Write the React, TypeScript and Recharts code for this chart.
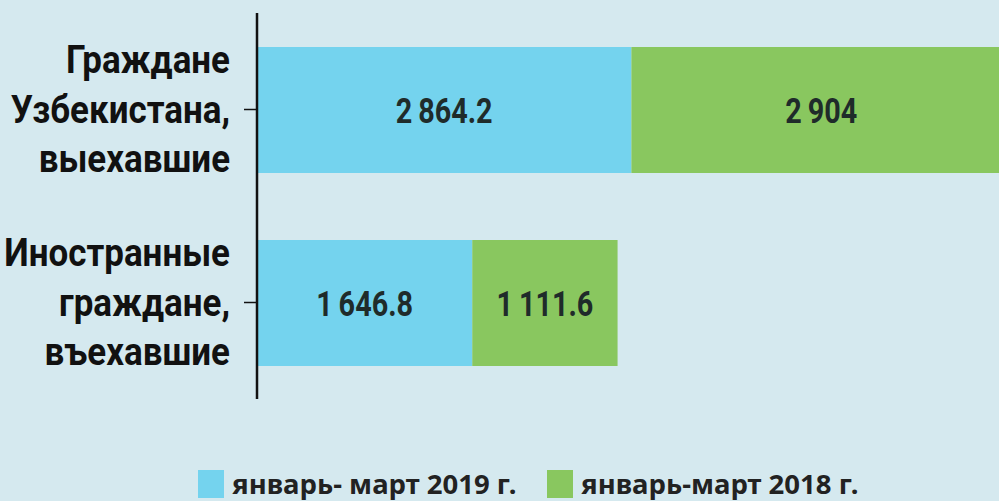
import React from "react";
import { BarChart, Bar, XAxis, YAxis, Legend, LabelList } from "recharts";

const categories = ["Граждане Узбекистана, выехавшие", "Иностранные граждане, въехавшие"];
const categoryLines = [
  ["Граждане", "Узбекистана,", "выехавшие"],
  ["Иностранные", "граждане,", "въехавшие"],
];
const values2019 = [2864.2, 1646.8];
const values2018 = [2904, 1111.6];
const seriesNames = ["январь- март 2019 г.", "январь-март 2018 г."];
const seriesColors = ["#74d3ee", "#89c75f"];

const data = categories.map((name, i) => ({
  name,
  v2019: values2019[i],
  v2018: values2018[i],
}));

const FONT = "Roboto, 'Noto Sans', sans-serif";
const LABEL_FONT = "'Noto Sans', Roboto, sans-serif";
const BG = "#d5e9ef";

const fmt = (v: any) => {
  const n = Number(v);
  const [ip, dp] = String(n).split(".");
  const withSp = ip.replace(/\B(?=(\d{3})+(?!\d))/g, "\u2009");
  return dp ? `${withSp}.${dp}` : withSp;
};

const lineOffsets = [-37, 13, 63];

const CatTick = (props: any) => {
  const { x, y, payload } = props;
  const idx = categories.indexOf(payload.value);
  const lines = categoryLines[idx] || [payload.value];
  const xEnd = x - 12;
  return (
    <g transform={`translate(${xEnd},${y}) scale(0.92,1)`}>
      <text
        x={0}
        y={0}
        textAnchor="end"
        fontFamily={FONT}
        fontWeight={700}
        fontSize={38}
        fill="#111"
      >
        {lines.map((l: string, i: number) => (
          <tspan key={i} x={0} y={lineOffsets[i] ?? 0}>
            {l}
          </tspan>
        ))}
      </text>
    </g>
  );
};

const ValueLabel = (props: any) => {
  const { x, y, width, height, value } = props;
  const cx = Number(x) + Number(width) / 2;
  const cy = Number(y) + Number(height) / 2;
  return (
    <g transform={`translate(${cx},${cy}) scale(0.8,1)`}>
      <text
        x={0}
        y={13}
        textAnchor="middle"
        fontFamily={FONT}
        fontWeight={700}
        fontSize={36}
        fill="#1f2b2a"
      >
        {fmt(value)}
      </text>
    </g>
  );
};

const LegendContent = () => (
  <div
    style={{
      height: 102,
      width: 1030,
      display: "flex",
      alignItems: "flex-end",
      fontFamily: LABEL_FONT,
      fontWeight: 700,
      fontSize: 27.5,
      color: "#222",
    }}
  >
    <div style={{ display: "flex", alignItems: "center", marginLeft: 198, height: 28, marginBottom: 3 }}>
      {seriesNames.map((n, i) => (
        <div key={i} style={{ display: "flex", alignItems: "center", width: i === 0 ? 349 : 400 }}>
          <div style={{ width: 26, height: 28, background: seriesColors[i], marginRight: 8 }} />
          <span style={{ lineHeight: "28px" }}>{n}</span>
        </div>
      ))}
    </div>
  </div>
);

export default function App() {
  return (
    <div
      style={{
        position: "fixed",
        top: 0,
        left: 0,
        width: 999,
        height: 501,
        overflow: "hidden",
        background: BG,
      }}
    >
      <BarChart
        width={1030}
        height={501}
        data={data}
        layout="vertical"
        margin={{ top: 13, right: 19, left: 0, bottom: 0 }}
        barSize={126}
      >
        <XAxis type="number" hide domain={[0, 5768.2]} />
        <YAxis
          type="category"
          dataKey="name"
          width={257}
          axisLine={{ stroke: "#111", strokeWidth: 2.5 }}
          tickLine={{ stroke: "#111", strokeWidth: 1.5 }}
          tickSize={13}
          tick={<CatTick />}
          interval={0}
        />
        <Legend
          verticalAlign="bottom"
          content={<LegendContent />}
          wrapperStyle={{ left: 0, bottom: 0, width: 1030 }}
        />
        <Bar dataKey="v2019" name={seriesNames[0]} stackId="a" fill={seriesColors[0]} isAnimationActive={false}>
          <LabelList dataKey="v2019" content={<ValueLabel />} />
        </Bar>
        <Bar dataKey="v2018" name={seriesNames[1]} stackId="a" fill={seriesColors[1]} isAnimationActive={false}>
          <LabelList dataKey="v2018" content={<ValueLabel />} />
        </Bar>
      </BarChart>
    </div>
  );
}
